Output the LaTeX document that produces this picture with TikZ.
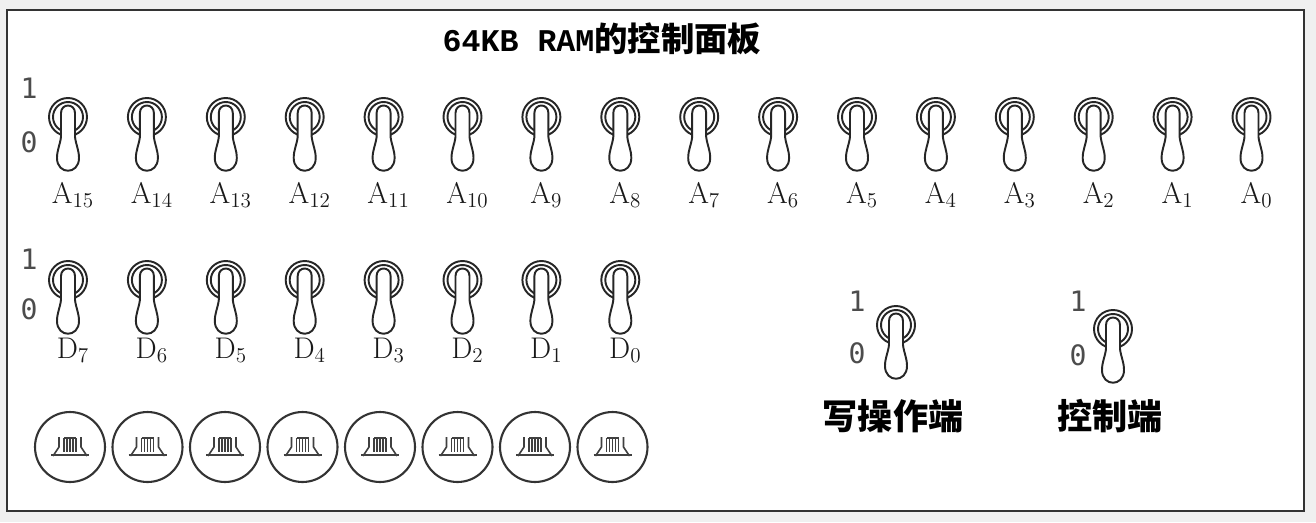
\documentclass[tikz,border=0pt]{standalone}
\usepackage{fontspec}
\newfontfamily\cjk{Noto Sans CJK SC}
\newfontfamily\panelmono{Liberation Mono}
\newfontfamily\digitfont{DejaVu Sans Mono}
\usetikzlibrary{positioning}

% one toggle switch, ring centre at (#1,#2)
\newcommand{\toggleswitch}[2]{%
  \begin{scope}[shift={(#1,#2)}]
    \draw[ring] (0,0) circle (19);
    \draw[ring] (0,0) circle (15);
    \draw[lever] (-7,-4) .. controls (-7,-14) and (7,-14) .. (7,-4)
      -- (7,20) .. controls (8,28) and (11,33) .. (11,41)
      .. controls (11,58) and (-11,58) .. (-11,41)
      .. controls (-11,33) and (-8,28) .. (-7,20) -- cycle;
  \end{scope}}

\begin{document}
\begin{tikzpicture}[
  x=0.02cm, y=-0.02cm,
  font=\fontsize{17}{19}\selectfont,
  bitlbl/.style={anchor=base, inner sep=0pt, text=black!90},
  levelmark/.style={font=\digitfont\fontsize{16}{18}\selectfont, text=black!70, inner sep=0pt},
  portlbl/.style={font=\cjk\bfseries\fontsize{20}{22}\selectfont, inner sep=0pt},
  lamp/.style={circle, draw=black!80, line width=1.2pt, minimum size=1.4cm, inner sep=0pt},
  ring/.style={draw=black!85, line width=1.1pt},
  lever/.style={draw=black!85, fill=white, line width=1.1pt},
  filament/.style={draw=black!75, line width=0.9pt},
]
\useasboundingbox (0,0) rectangle (1316,522);
\fill[black!6] (0,0) rectangle (1316,522);
\draw[line width=1.6pt, draw=black!80, fill=white] (7,10) rectangle (1304,511);

\node[inner sep=0pt] (title) at (602,39)
  {\fontsize{18}{22}\selectfont\panelmono\bfseries 64KB RAM\cjk\bfseries\fontsize{19}{22}\selectfont 的控制面板};

% address switches
\node[levelmark] (hiA) at (29,88) {1};
\node[levelmark] (loA) at (29,142) {0};
\foreach \i in {0,...,15} {
  \pgfmathsetmacro\xx{68+78.9*(15-\i)}
  \toggleswitch{\xx}{117}
  \node[bitlbl] (lblA\i) at (\xx+5,203) {A$_{\i}$};
}

% data switches
\node[levelmark] (hiD) at (29,259) {1};
\node[levelmark] (loD) at (29,309) {0};
\foreach \i in {0,...,7} {
  \pgfmathsetmacro\xx{68+78.9*(7-\i)}
  \toggleswitch{\xx}{280}
  \node[bitlbl] (lblD\i) at (\xx+5,358) {D$_{\i}$};
}

% lamps
\foreach \k in {0,...,7} {
  \node[lamp] (lamp\k) at (70+77.5*\k,447) {};
  \begin{scope}[shift={(lamp\k.center)}]
    \draw[filament] (-17,9) -- (-11,0) -- (-11,-10);
    \draw[filament] (17,9) -- (11,0) -- (11,-10);
    \draw[filament] (-6,-9) -- (6,-9);
    \foreach \s in {-6,-3,0,3,6}
      \draw[filament] (\s,-9) -- (\s,5);
    \draw[filament] (-19,8) -- (19,8);
  \end{scope}
}

% write switch
\node[levelmark] (hiWr) at (857,301) {1};
\node[levelmark] (loWr) at (857,353) {0};
\toggleswitch{896}{325}
\node[portlbl] (wrlbl) at (893,416) {写操作端};

% control switch
\node[levelmark] (hiCtl) at (1078,301) {1};
\node[levelmark] (loCtl) at (1078,355) {0};
\toggleswitch{1113}{329}
\node[portlbl] (ctllbl) at (1110,416) {控制端};

\end{tikzpicture}
\end{document}
